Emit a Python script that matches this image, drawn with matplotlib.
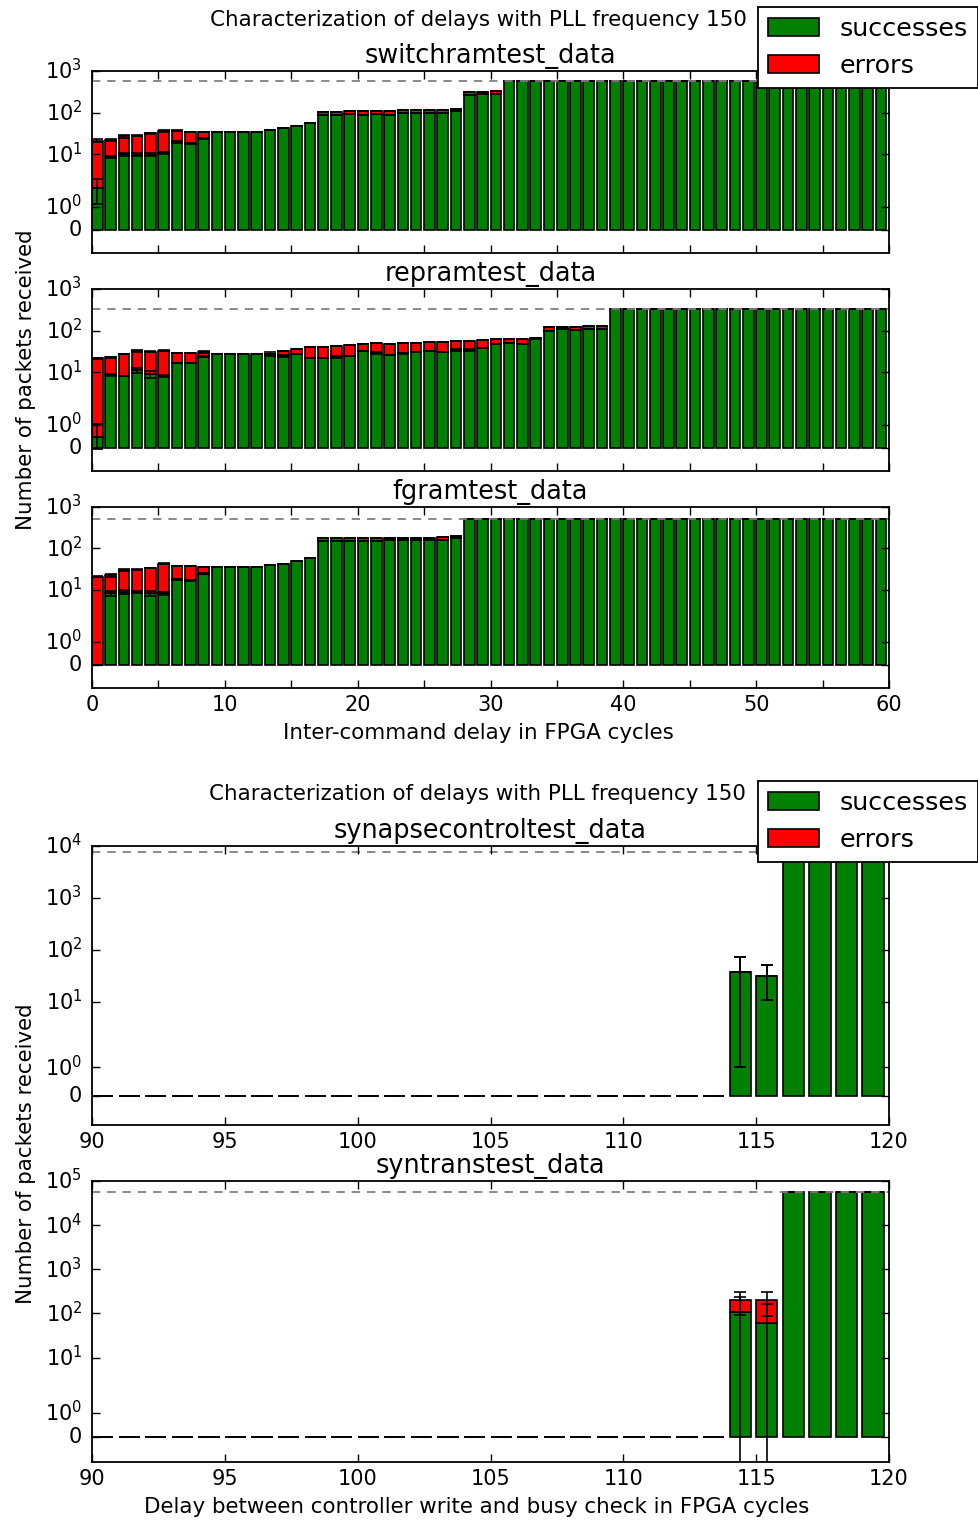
import numpy as np
import matplotlib
matplotlib.use('Agg')
import matplotlib.pyplot as plt
from matplotlib.ticker import FixedLocator, FuncFormatter, NullLocator, MultipleLocator

plt.style.use('classic')
plt.rcParams['font.family'] = 'DejaVu Sans'

# ---- data: top figure (inter-command delay 0..59) ----
delays_a = list(range(0, 60))

switch_expected = 560
switch_succ = [1.8, 8.6, 10, 9.7, 9.7, 10.7, 19.6, 18, 24.4, 34,
               34, 34, 34, 38.6, 43.2, 48, 56, 88, 88, 93,
               86, 93, 86, 96, 96, 97, 97, 107, 268, 278,
               288, 560, 560, 560, 560, 560, 560, 560, 560, 560,
               560, 560, 560, 560, 560, 560, 560, 560, 560, 560,
               560, 560, 560, 560, 560, 560, 560, 560, 560, 560]
switch_total = [21.5, 22, 27, 28, 32, 36, 37, 35, 34, 34,
                34, 34, 34, 38.6, 43.2, 48, 56, 105, 105, 110,
                110, 110, 110, 116, 116, 118, 118, 124, 321, 321,
                333, 560, 560, 560, 560, 560, 560, 560, 560, 560,
                560, 560, 560, 560, 560, 560, 560, 560, 560, 560,
                560, 560, 560, 560, 560, 560, 560, 560, 560, 560]
switch_succ_std = [0.7, 0.5, 1, 0.8, 0.8, 0.5, 1, 0.5, 0.5, 0,
                   0, 0, 0, 0, 0, 0, 0, 0, 0, 0,
                   0, 0, 0, 0, 0, 0, 0, 0, 0, 0,
                   0, 0, 0, 0, 0, 0, 0, 0, 0, 0,
                   0, 0, 0, 0, 0, 0, 0, 0, 0, 0,
                   0, 0, 0, 0, 0, 0, 0, 0, 0, 0]
switch_total_std = [1.5, 1, 2, 1, 0.5, 2, 0.5, 0, 0, 0,
                    0, 0, 0, 0, 0, 0, 0, 0, 0, 0,
                    0, 0, 0, 0, 0, 0, 0, 0, 0, 0,
                    0, 0, 0, 0, 0, 0, 0, 0, 0, 0,
                    0, 0, 0, 0, 0, 0, 0, 0, 0, 0,
                    0, 0, 0, 0, 0, 0, 0, 0, 0, 0]

repram_expected = 326
repram_succ = [0.47, 8.6, 8.3, 11.4, 9, 8.3, 16.4, 17, 23.7, 27,
               27, 27, 27, 28, 25, 27.5, 21.7, 21.7, 23.7, 25.1,
               32.5, 29.5, 26, 28.6, 30.2, 32.5, 30.2, 34.4, 34.4, 37.7,
               47.9, 49.7, 48, 63, 100, 108, 104, 112, 112, 326,
               326, 326, 326, 326, 326, 326, 326, 326, 326, 326,
               326, 326, 326, 326, 326, 326, 326, 326, 326, 326]
repram_total = [21.7, 22.9, 27, 33, 31.3, 33, 28.6, 28.6, 30.8, 27,
                27, 27, 27, 28, 33, 35.7, 39.8, 41.2, 42.8, 45.3,
                47.9, 49.7, 47.9, 49.7, 51.4, 54.4, 54.4, 57.4, 56.5, 59.7,
                61.9, 63, 62, 65.6, 124.5, 126, 126, 127, 127, 326,
                326, 326, 326, 326, 326, 326, 326, 326, 326, 326,
                326, 326, 326, 326, 326, 326, 326, 326, 326, 326]
repram_succ_std = [0.54, 0.5, 0, 1.5, 1.5, 0.5, 0, 0, 0.5, 0,
                   0, 0, 0, 3, 1, 0, 0, 0, 1, 0,
                   0, 1.5, 0, 1, 0, 0, 0, 1, 1.5, 0,
                   0, 0, 0, 0, 0, 0, 0, 0, 0, 0,
                   0, 0, 0, 0, 0, 0, 0, 0, 0, 0,
                   0, 0, 0, 0, 0, 0, 0, 0, 0, 0]
repram_total_std = [0.5, 0.5, 0, 2, 0.5, 0.5, 0, 0, 1.5, 0,
                    0, 0, 0, 0, 0, 0, 0, 0, 0, 0,
                    0, 0, 0, 0, 0, 0, 0, 0, 0, 0,
                    0, 0, 0, 0, 0, 0, 0, 0, 0, 0,
                    0, 0, 0, 0, 0, 0, 0, 0, 0, 0,
                    0, 0, 0, 0, 0, 0, 0, 0, 0, 0]

fgram_expected = 506
fgram_succ = [0, 8.2, 9.0, 8.7, 8.2, 8.2, 18.2, 17.2, 24.8, 36,
              36, 36, 36, 39.5, 43.3, 49.3, 58, 155, 155, 155,
              155, 155, 157, 157, 157, 157, 160, 174, 506, 506,
              506, 506, 506, 506, 506, 506, 506, 506, 506, 506,
              506, 506, 506, 506, 506, 506, 506, 506, 506, 506,
              506, 506, 506, 506, 506, 506, 506, 506, 506, 506]
fgram_total = [20.6, 22.7, 29.9, 31, 34, 43.3, 37.4, 37.4, 36, 36,
               36, 36, 36, 39.5, 43.3, 49.3, 58, 178, 178, 180,
               180, 180, 182, 182, 182, 182, 185, 197, 506, 506,
               506, 506, 506, 506, 506, 506, 506, 506, 506, 506,
               506, 506, 506, 506, 506, 506, 506, 506, 506, 506,
               506, 506, 506, 506, 506, 506, 506, 506, 506, 506]
fgram_succ_std = [0, 1, 1, 0.5, 1, 0.5, 0.5, 0.5, 0.5, 0,
                  0, 0, 0, 0, 0, 0, 0, 0, 0, 0,
                  0, 0, 0, 0, 0, 0, 0, 0, 0, 0,
                  0, 0, 0, 0, 0, 0, 0, 0, 0, 0,
                  0, 0, 0, 0, 0, 0, 0, 0, 0, 0,
                  0, 0, 0, 0, 0, 0, 0, 0, 0, 0]
fgram_total_std = [0.5, 2, 1.5, 1, 0.5, 1, 0.5, 0.5, 0.5, 0,
                   0, 0, 0, 0, 0, 0, 0, 0, 0, 0,
                   0, 0, 0, 0, 0, 0, 0, 0, 0, 0,
                   0, 0, 0, 0, 0, 0, 0, 0, 0, 0,
                   0, 0, 0, 0, 0, 0, 0, 0, 0, 0,
                   0, 0, 0, 0, 0, 0, 0, 0, 0, 0]

# ---- data: bottom figure (busy check delay 90..119) ----
delays_b = list(range(90, 120))

synctl_expected = 7500
synctl_succ = [0, 0, 0, 0, 0, 0, 0, 0, 0, 0,
               0, 0, 0, 0, 0, 0, 0, 0, 0, 0,
               0, 0, 0, 0, 37, 31, 7500, 7500, 7500, 7500]
synctl_total = [0, 0, 0, 0, 0, 0, 0, 0, 0, 0,
                0, 0, 0, 0, 0, 0, 0, 0, 0, 0,
                0, 0, 0, 0, 37, 31, 7500, 7500, 7500, 7500]
synctl_succ_std = [0, 0, 0, 0, 0, 0, 0, 0, 0, 0,
                   0, 0, 0, 0, 0, 0, 0, 0, 0, 0,
                   0, 0, 0, 0, 36, 20, 0, 0, 0, 0]
synctl_total_std = [0, 0, 0, 0, 0, 0, 0, 0, 0, 0,
                    0, 0, 0, 0, 0, 0, 0, 0, 0, 0,
                    0, 0, 0, 0, 36, 20, 0, 0, 0, 0]

syntrans_expected = 57000
syntrans_succ = [0, 0, 0, 0, 0, 0, 0, 0, 0, 0,
                 0, 0, 0, 0, 0, 0, 0, 0, 0, 0,
                 0, 0, 0, 0, 105, 61, 57000, 57000, 57000, 57000]
syntrans_total = [0, 0, 0, 0, 0, 0, 0, 0, 0, 0,
                  0, 0, 0, 0, 0, 0, 0, 0, 0, 0,
                  0, 0, 0, 0, 199, 199, 57000, 57000, 57000, 57000]
syntrans_succ_std = [0, 0, 0, 0, 0, 0, 0, 0, 0, 0,
                     0, 0, 0, 0, 0, 0, 0, 0, 0, 0,
                     0, 0, 0, 0, 135, 100, 0, 0, 0, 0]
syntrans_total_std = [0, 0, 0, 0, 0, 0, 0, 0, 0, 0,
                      0, 0, 0, 0, 0, 0, 0, 0, 0, 0,
                      0, 0, 0, 0, 108, 110, 0, 0, 0, 0]

suptitle = 'Characterization of delays with PLL frequency 150'

W, H = 979, 1522
fig = plt.figure(figsize=(W/100., H/100.), dpi=100, facecolor='white')

def box(top, bottom, left=92, right=889):
    return [left/float(W), 1-bottom/float(H), (right-left)/float(W), (bottom-top)/float(H)]

def fmt(v, pos):
    if v == 0:
        return '0'
    return r'$\mathdefault{10^{%d}}$' % int(round(np.log10(v)))

def panel(ax, x, succ, total, s_std, t_std, expected, title, ymax, xlim, labelstep, xlabels):
    x = np.array(x)
    succ = np.array(succ, dtype=float)
    total = np.array(total, dtype=float)
    err = total - succ
    b1 = ax.bar(x, succ, width=0.8, align='edge', color='g', edgecolor='k', linewidth=1.2)
    b2 = ax.bar(x, err, width=0.8, bottom=succ, align='edge', color='r', edgecolor='k', linewidth=1.2)
    ax.errorbar(x+0.4, succ, yerr=s_std, fmt='none', ecolor='k', capsize=4, elinewidth=1.2, capthick=1.2)
    ax.errorbar(x+0.4, total, yerr=t_std, fmt='none', ecolor='k', capsize=4, elinewidth=1.2, capthick=1.2)
    ax.axhline(expected, color='grey', linestyle='--', linewidth=1.3, dashes=(6, 5))
    ax.set_yscale('symlog', linthresh=2, linscale=1)
    ax.set_ylim(-1, ymax)
    ax.set_xlim(*xlim)
    ticks = [0] + [10**k for k in range(0, int(round(np.log10(ymax)))+1)]
    ax.yaxis.set_major_locator(FixedLocator(ticks))
    ax.yaxis.set_major_formatter(FuncFormatter(fmt))
    ax.yaxis.set_minor_locator(NullLocator())
    ax.xaxis.set_major_locator(MultipleLocator(5))
    ax.xaxis.set_minor_locator(NullLocator())
    if xlabels:
        ax.xaxis.set_major_formatter(FuncFormatter(lambda v, p: '%d' % v if round(v) % labelstep == 0 else ''))
    else:
        ax.set_xticklabels([])
    ax.tick_params(axis='both', which='major', labelsize=15, length=6, width=1, direction='in')
    ax.tick_params(axis='x', pad=5)
    ax.tick_params(axis='y', pad=7)
    ax.set_title(title, fontsize=18.4, pad=6)
    for s in ax.spines.values():
        s.set_linewidth(1.3)
    return b1, b2

ax1 = fig.add_axes(box(71, 253))
b1, b2 = panel(ax1, delays_a, switch_succ, switch_total, switch_succ_std, switch_total_std,
               switch_expected, 'switchramtest_data', 1000, (0, 60), 10, False)
ax2 = fig.add_axes(box(289, 471))
panel(ax2, delays_a, repram_succ, repram_total, repram_succ_std, repram_total_std,
      repram_expected, 'repramtest_data', 1000, (0, 60), 10, False)
ax3 = fig.add_axes(box(507, 688))
panel(ax3, delays_a, fgram_succ, fgram_total, fgram_succ_std, fgram_total_std,
      fgram_expected, 'fgramtest_data', 1000, (0, 60), 10, True)

ax4 = fig.add_axes(box(846, 1125))
panel(ax4, delays_b, synctl_succ, synctl_total, synctl_succ_std, synctl_total_std,
      synctl_expected, 'synapsecontroltest_data', 10000, (90, 120), 5, True)
ax5 = fig.add_axes(box(1181, 1462))
panel(ax5, delays_b, syntrans_succ, syntrans_total, syntrans_succ_std, syntrans_total_std,
      syntrans_expected, 'syntranstest_data', 100000, (90, 120), 5, True)

# figure texts
fig.text(478/float(W), 1-26/float(H), suptitle, ha='center', va='baseline', fontsize=15.4)
fig.text(477/float(W), 1-800/float(H), suptitle, ha='center', va='baseline', fontsize=15.4)
fig.text(478/float(W), 1-739/float(H), 'Inter-command delay in FPGA cycles', ha='center', va='baseline', fontsize=15.4)
fig.text(477/float(W), 1-1513/float(H), 'Delay between controller write and busy check in FPGA cycles',
         ha='center', va='baseline', fontsize=15.4)
fig.text(26/float(W), 1-380/float(H), 'Number of packets received', rotation=90, ha='center', va='center', fontsize=15.4)
fig.text(26/float(W), 1-1154/float(H), 'Number of packets received', rotation=90, ha='center', va='center', fontsize=15.4)

for ytop in (7, 781):
    leg = fig.legend([b1, b2], ['successes', 'errors'], loc='upper right',
                     bbox_to_anchor=(978/float(W), 1-ytop/float(H)), borderaxespad=0,
                     fontsize=18.3, fancybox=False, framealpha=1)
    leg.get_frame().set_linewidth(1.3)
    leg.set_zorder(10)

fig.savefig('out.png', dpi=100, facecolor='white')
